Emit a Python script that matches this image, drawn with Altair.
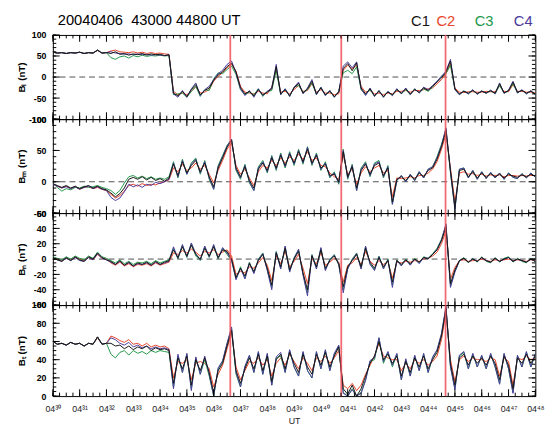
import json
import altair as alt
import pandas as pd

# ---------------- data ----------------
minutes = [i / 6 for i in range(109)]          # 10-s samples, minutes after 04:30 UT
x_tick_values = list(range(19))
x_tick_labels = ["04³⁰", "04³¹", "04³²", "04³³", "04³⁴", "04³⁵", "04³⁶", "04³⁷", "04³⁸", "04³⁹",
                 "04⁴⁰", "04⁴¹", "04⁴²", "04⁴³", "04⁴⁴", "04⁴⁵", "04⁴⁶", "04⁴⁷", "04⁴⁸"]
x_minor_values = [i / 4 for i in range(73)]
event_times = [6.62, 10.76, 14.65]
sc_names = ["C1", "C2", "C3", "C4"]
sc_colors = ["#151515", "#e8452c", "#23994a", "#4a3a9c"]
title_text = "20040406\u00a0 43000 44800 UT"

bl_c1 = [59, 57, 58, 56, 58, 57, 59, 56, 58, 57, 64, 57, 58,
         56, 60, 54, 56, 52, 55, 53, 56, 52, 55, 53, 54, 51, 53,
         -38, -45, -34, -46, -30, -18, -42, -32, -26,
         -8, 5, 12, 25, 33, 12, -25, -40,
         -34, -45, -30, -42, -36, -28, 25, -40, -30, -44, -26, -15, -38, -28, -10, -40, -26, -42, -34, -46, -36,
         20, 32, 15, 34, -26, -40,
         -28, -44, -34, -46, -36, -42, -30, -38, -28, -40, -30, -36, -26, -32, -22, -12,
         -2, 12, 38,
         -28, -40, -34, -38, -32, -39, -34, -37, -33, -38, -16, -37, -33, -12, -36, -32, -38, -34, -40]
bl_c2 = [59, 57, 58, 56, 58, 57, 59, 56, 58, 57, 63, 57, 58,
         62, 64, 60, 59, 58, 60, 57, 59, 56, 58, 56, 57, 55, 54,
         -34, -42, -38, -42, -34, -24, -38, -36, -30,
         -10, 2, 10, 22, 30, 14, -22, -36,
         -38, -40, -34, -38, -40, -24, 18, -36, -34, -40, -30, -20, -34, -32, -16, -36, -30, -38, -38, -42, -40,
         16, 28, 20, 28, -22, -36,
         -32, -40, -38, -42, -38, -40, -34, -34, -32, -36, -32, -32, -30, -28, -26, -16,
         -6, 8, 32,
         -26, -36, -37, -35, -35, -36, -36, -34, -35, -35, -22, -34, -35, -18, -34, -34, -36, -36, -38]
bl_c3 = [59, 57, 58, 56, 58, 57, 59, 56, 58, 57, 64, 57, 58,
         46, 42, 48, 50, 45, 51, 48, 52, 49, 51, 50, 52, 50, 51,
         -42, -40, -38, -48, -34, -22, -46, -30, -32,
         -4, 10, 8, 18, 26, 6, -30, -42,
         -36, -42, -28, -46, -34, -32, 16, -42, -28, -46, -24, -20, -36, -30, -14, -42, -24, -44, -32, -48, -34,
         10, 16, 8, 24, -30, -42,
         -30, -46, -32, -48, -34, -44, -28, -40, -30, -42, -28, -38, -28, -34, -24, -10,
         2, 8, 28,
         -30, -42, -33, -40, -31, -41, -33, -39, -32, -40, -20, -39, -32, -16, -38, -31, -40, -33, -42]
bl_c4 = [59, 57, 58, 56, 58, 57, 59, 56, 58, 57, 64, 57, 58,
         60, 57, 56, 54, 55, 53, 55, 53, 54, 52, 53, 52, 51, 52,
         -40, -48, -32, -48, -28, -14, -44, -30, -22,
         -6, 8, 16, 30, 38, 10, -28, -44,
         -32, -48, -28, -44, -34, -26, 30, -42, -28, -46, -24, -12, -40, -26, -6, -42, -24, -44, -32, -48, -34,
         26, 36, 22, 36, -28, -44,
         -26, -46, -32, -48, -34, -44, -28, -40, -26, -42, -28, -38, -24, -30, -20, -10,
         2, 14, 42,
         -30, -42, -33, -40, -30, -41, -33, -39, -31, -40, -14, -39, -31, -10, -38, -30, -40, -32, -42]

bm_c1 = [-3, -6, -9, -6, -10, -7, -11, -8, -6, -10, -7, -11, -13,
         -18, -24, -19, -10,
         4, 7, 4, 8, 3, 7, 2, 5,
         1, 6,
         28, 10, 32, 14, 26, 34, 16, 30, 8, -8, 22, 38, 55, 66, 22, 8, 24, 2, -10, 20,
         30, 18, 38, 22, 42, 26, 44, 30, 48, 32, 52, 30, 42, 22, 28, 10, 12,
         0,
         48, 8, 24, -10, 18, 28, 12, 26, 30, 10, 22,
         -32,
         4, 8, 2, 10, 4, 14, 8, 18, 22,
         36, 56, 82, 18, -40, 18,
         20, 8, 16, 6, 14, 7, 13, 8, 12, 6, 12, 9, 7, 11, 8, 12, 9]
bm_c2 = [-4, -7, -10, -7, -11, -8, -12, -9, -8, -11, -9, -12, -14,
         -20, -26, -22, -15,
         -6, -4, -7, -3, -6, -4, -5, -2,
         0, 3,
         22, 16, 28, 18, 22, 30, 20, 26, 12, -2, 18, 34, 52, 62, 26, 12, 20, 6, -6, 16,
         26, 22, 34, 26, 38, 30, 40, 34, 44, 36, 48, 34, 38, 26, 24, 14, 8,
         4,
         42, 12, 20, -4, 14, 24, 16, 22, 26, 14, 18,
         -24,
         6, 5, 6, 8, 6, 10, 10, 14, 20,
         32, 52, 76, 22, -32, 14,
         16, 12, 13, 10, 12, 9, 11, 10, 11, 8, 10, 10, 9, 10, 9, 10, 10]
bm_c3 = [-2, -9, -15, -11, -13, -9, -10, -7, -9, -8, -6, -9, -11,
         -14, -20, -14, -2,
         8, 10, 6, 9, 5, 8, 4, 6,
         4, 8,
         32, 6, 36, 12, 30, 38, 12, 34, 4, -12, 26, 42, 58, 68, 18, 4, 28, -2, -14, 24,
         34, 14, 42, 18, 46, 22, 48, 26, 52, 28, 56, 26, 46, 18, 32, 6, 16,
         -4,
         52, 4, 28, -14, 22, 32, 8, 30, 34, 6, 26,
         -36,
         2, 10, 0, 12, 2, 16, 6, 20, 24,
         40, 60, 84, 14, -44, 20,
         22, 6, 18, 4, 16, 5, 15, 6, 14, 4, 14, 7, 5, 13, 6, 14, 7]
bm_c4 = [-4, -7, -10, -8, -11, -8, -12, -9, -7, -11, -8, -12, -14,
         -25, -30, -26, -16,
         -4, -8, -5, -9, -4, -6, -1, -3,
         0, 4,
         30, 8, 34, 12, 28, 36, 14, 32, 6, -12, 24, 40, 57, 68, 20, 6, 26, 0, -14, 22,
         32, 16, 40, 20, 44, 24, 46, 28, 50, 30, 55, 28, 44, 20, 30, 8, 14,
         -2,
         50, 6, 26, -14, 20, 30, 10, 28, 32, 8, 24,
         -36,
         2, 10, 0, 12, 2, 16, 6, 20, 24,
         38, 58, 86, 16, -44, 20,
         22, 6, 18, 4, 16, 5, 15, 6, 14, 4, 14, 7, 5, 13, 6, 14, 7]

bn_c1 = [2, -1, -3, 2, -2, 3, -1, -3, 3, 0, 8, 2, -1,
         -3, -7, -2, -8, -4, -9, -5, -7, -4, -8, -3, -7, -4, -2,
         12, 2, 16, 4, 18, 6, 0, 14, 4, 16, 2, 12,
         10, 0, -24, -12, -22, -6, -16,
         -2, 6, -12, -34, 8, -10, 14, -14, 0, 10, -18, -40, 4, -10, 12, -12, -2, 4,
         -6,
         -36, -10, -2, 6, -10, 14, -4, -12, 2, -10, -2,
         -30,
         -2, -7, -1, -6, 0, -4, 2, 0, 6, 12,
         24, 42, -32, -14,
         -2, 1, -4, 0, -3, 2, -2, -4, 1, -3, 0, 2, -3, 0, -2, -4, 0, -3]
bn_c2 = [1, 0, -2, 1, -1, 2, 0, -2, 2, -1, 6, 1, 0,
         -5, -8, -4, -9, -6, -10, -7, -8, -6, -9, -5, -8, -6, -4,
         8, 6, 11, 8, 13, 9, 4, 10, 8, 12, 6, 9,
         12, 4, -20, -16, -18, -10, -12,
         -5, 2, -8, -28, 4, -6, 10, -10, -3, 6, -12, -32, 0, -6, 8, -8, -4, 1,
         -4,
         -30, -8, -5, 2, -7, 10, -3, -8, -2, -7, -3,
         -25,
         -4, -5, -3, -4, -2, -3, 0, 1, 4, 9,
         20, 37, -26, -11,
         -2, -1, -3, -2, -2, 0, -2, -3, -1, -2, -1, 0, -2, -1, -2, -3, -1, -2]
bn_c3 = [3, 1, -1, 3, 0, 4, 1, -1, 4, 1, 9, 3, 1,
         -2, -5, -1, -6, -3, -7, -4, -5, -3, -6, -2, -5, -3, -1,
         14, 0, 18, 2, 20, 4, -2, 16, 2, 18, 0, 14,
         6, -2, -26, -10, -25, -4, -18,
         0, 8, -14, -37, 10, -12, 16, -16, 2, 12, -20, -44, 6, -12, 14, -14, 0, 6,
         -8,
         -40, -12, 0, 8, -12, 16, -6, -14, 4, -12, 0,
         -34,
         -1, -8, 0, -7, 1, -5, 3, 1, 7, 14,
         26, 44, -35, -16,
         -3, 2, -5, 1, -4, 3, -3, -5, 2, -4, 1, 3, -4, 1, -3, -5, 1, -4]
bn_c4 = [2, -1, -3, 1, -2, 2, -2, -3, 2, -1, 7, 1, -1,
         -4, -7, -3, -8, -5, -9, -6, -7, -5, -8, -4, -7, -5, -3,
         16, 1, 19, 3, 21, 7, -1, 17, 3, 19, 1, 15,
         8, -1, -27, -12, -26, -5, -19,
         -1, 7, -15, -40, 9, -13, 17, -17, 1, 13, -21, -48, 5, -13, 15, -15, -1, 5,
         -7,
         -44, -13, -1, 7, -13, 17, -7, -15, 3, -13, -1,
         -37,
         -2, -9, -1, -8, 0, -6, 2, 1, 6, 13,
         25, 46, -37, -17,
         -2, 1, -4, 0, -3, 2, -2, -4, 1, -3, 0, 2, -3, 0, -2, -4, 0, -3]

bt_c1 = [60, 57, 58, 56, 59, 57, 58, 55, 58, 57, 65, 57, 58,
         58, 55, 56, 52, 55, 51, 54, 52, 55, 50, 53, 51, 52, 50,
         14, 42, 30, 44, 12, 40, 28, 42,
         26, 4, 28, 36, 55, 72, 28, 14, 30,
         42, 30, 46, 28, 44, 16, 40, 46, 30, 48, 36, 26, 46, 32, 24, 46, 34, 48, 32, 44, 54,
         8, 2, 12, 0, 8, 22,
         36, 44, 60, 40, 46,
         36, 44, 22, 38, 26, 42, 32, 44, 30, 40, 48,
         66, 96, 36, 12, 42,
         46, 34, 44, 36, 42, 34, 44, 36, 18, 44, 34, 8, 42, 36, 46, 36, 44]
bt_c2 = [60, 57, 58, 56, 59, 57, 58, 55, 58, 57, 64, 57, 58,
         66, 64, 61, 59, 62, 57, 58, 55, 58, 54, 56, 54, 55, 52,
         20, 38, 36, 40, 18, 36, 38, 36,
         30, 10, 24, 34, 52, 70, 32, 18, 28,
         38, 36, 42, 34, 40, 22, 36, 42, 34, 46, 38, 30, 42, 36, 28, 42, 38, 44, 36, 42, 50,
         12, 8, 14, 6, 12, 24,
         34, 44, 58, 44, 42,
         40, 40, 28, 36, 30, 40, 36, 40, 34, 38, 44,
         62, 92, 40, 16, 40,
         44, 38, 42, 40, 40, 38, 42, 40, 22, 42, 38, 12, 42, 40, 44, 40, 42]
bt_c3 = [60, 57, 58, 56, 59, 57, 58, 55, 58, 57, 65, 57, 58,
         46, 42, 48, 50, 45, 50, 47, 49, 46, 50, 48, 50, 49, 48,
         10, 44, 26, 46, 8, 42, 24, 40,
         22, 0, 30, 38, 58, 74, 24, 10, 32,
         44, 26, 48, 24, 46, 12, 42, 44, 26, 50, 32, 22, 48, 28, 20, 48, 30, 50, 28, 46, 55,
         4, 0, 8, 0, 4, 18,
         38, 40, 64, 36, 48,
         32, 46, 18, 40, 22, 44, 28, 46, 26, 42, 50,
         68, 97, 32, 8, 44,
         48, 30, 46, 32, 44, 30, 46, 32, 14, 46, 30, 4, 44, 32, 48, 32, 46]
bt_c4 = [60, 57, 58, 56, 59, 57, 58, 55, 58, 57, 65, 57, 58,
         64, 62, 58, 56, 59, 54, 56, 53, 55, 52, 54, 52, 53, 51,
         8, 46, 26, 47, 6, 43, 24, 44,
         24, 0, 31, 39, 58, 76, 26, 10, 33,
         45, 26, 49, 24, 47, 12, 43, 48, 26, 51, 32, 22, 49, 28, 20, 49, 30, 51, 28, 47, 56,
         3, 0, 7, 0, 3, 17,
         39, 42, 64, 38, 49,
         34, 47, 18, 41, 22, 45, 28, 47, 26, 43, 51,
         69, 99, 32, 7, 45,
         49, 30, 47, 32, 45, 30, 47, 32, 13, 47, 30, 3, 45, 32, 49, 32, 47]

panels = [
    dict(title="Bₗ (nT)", domain=[-100, 100], major=[-100, -50, 0, 50, 100],
         minor=list(range(-100, 101, 10)), height=86, zero=True,
         series=[bl_c1, bl_c2, bl_c3, bl_c4]),
    dict(title="Bₘ (nT)", domain=[-50, 100], major=[-50, 0, 50, 100],
         minor=list(range(-50, 101, 10)), height=96, zero=True,
         series=[bm_c1, bm_c2, bm_c3, bm_c4]),
    dict(title="Bₙ (nT)", domain=[-60, 60], major=[-60, -40, -20, 0, 20, 40, 60],
         minor=list(range(-60, 61, 5)), height=94, zero=True,
         series=[bn_c1, bn_c2, bn_c3, bn_c4]),
    dict(title="Bₜ (nT)", domain=[0, 100], major=[0, 20, 40, 60, 80, 100],
         minor=list(range(0, 101, 5)), height=93, zero=False,
         series=[bt_c1, bt_c2, bt_c3, bt_c4]),
]
for p in panels:
    for s in p["series"]:
        assert len(s) == len(minutes), (p["title"], len(s))

FONT = "Liberation Sans"
W = 493
MAJ, MIN = 7, 3.5
x_label_expr = json.dumps(x_tick_labels, ensure_ascii=False) + "[round(datum.value)]"


def y_ticks(values, ys, length, right):
    x0, x1 = (W - length, W) if right else (0, length)
    return alt.Chart(pd.DataFrame({"v": values})).mark_rule(color="black", strokeWidth=1).encode(
        y=alt.Y("v:Q", scale=ys, axis=None), x=alt.value(x0), x2=alt.value(x1))


def x_ticks(values, xs, length, h, bottom):
    y0, y1 = (h - length, h) if bottom else (0, length)
    return alt.Chart(pd.DataFrame({"t": values})).mark_rule(color="black", strokeWidth=1).encode(
        x=alt.X("t:Q", scale=xs, axis=None), y=alt.value(y0), y2=alt.value(y1))


def make_panel(p, first, last):
    h = p["height"]
    xs = alt.Scale(domain=[0, 18], nice=False, zero=False)
    ys = alt.Scale(domain=p["domain"], nice=False, zero=False)
    df = pd.DataFrame({"t": minutes, **{n: v for n, v in zip(sc_names, p["series"])}})
    layers = []
    if p["zero"]:
        layers.append(alt.Chart(pd.DataFrame({"z": [0]})).mark_rule(
            color="#222222", strokeWidth=0.8, strokeDash=[6, 4]).encode(
            y=alt.Y("z:Q", scale=ys, axis=None)))
    if last:
        x_axis = alt.Axis(orient="bottom", values=x_tick_values, ticks=False, tickSize=0,
                          domain=False, grid=False, labelExpr=x_label_expr, labelPadding=9,
                          labelFontSize=9, labelFlush=False, labelOverlap=False, labelFont=FONT,
                          labelColor="#222222", title="UT", titleFontSize=9, titleFontWeight="normal",
                          titlePadding=3, titleFont=FONT, titleColor="#222222")
    else:
        x_axis = None
    y_axis = alt.Axis(orient="left", values=p["major"], ticks=False, tickSize=0, domain=False,
                      grid=False, labelExpr="datum.value + ''", labelPadding=7, labelFontSize=9,
                      labelFontWeight="bold", labelOverlap=False, labelFont=FONT, labelColor="black",
                      title=p["title"], titleX=-27, titleY=h / 2, titleAngle=270, titleAlign="center",
                      titleBaseline="bottom", titleFontSize=10, titleFontWeight="bold",
                      titleFont=FONT, titleColor="black")
    for idx in [1, 2, 3, 0]:
        main = idx == 0
        layers.append(alt.Chart(df).mark_line(color=sc_colors[idx], strokeWidth=1, clip=True).encode(
            x=alt.X("t:Q", scale=xs, axis=x_axis if main else None),
            y=alt.Y(f"{sc_names[idx]}:Q", scale=ys, axis=y_axis if main else None)))
    layers.append(alt.Chart(pd.DataFrame({"t": event_times})).mark_rule(
        color="#f0505a", strokeWidth=1.8, opacity=0.85).encode(
        x=alt.X("t:Q", scale=xs, axis=None)))
    # inward tick marks on all four sides
    for right in (False, True):
        layers.append(y_ticks(p["minor"], ys, MIN, right))
        layers.append(y_ticks(p["major"], ys, MAJ, right))
    for bottom in (False, True):
        layers.append(x_ticks(x_minor_values, xs, MIN, h, bottom))
        layers.append(x_ticks(x_tick_values, xs, MAJ, h, bottom))
    if first:
        layers.append(alt.Chart(pd.DataFrame({"s": [title_text]})).mark_text(
            align="left", baseline="alphabetic", fontSize=15, font=FONT, color="black").encode(
            text="s:N", x=alt.value(5), y=alt.value(-10)))
        legend_x = [366, 392, 431, 471]
        for n, c, lx in zip(sc_names, sc_colors, legend_x):
            layers.append(alt.Chart(pd.DataFrame({"s": [n]})).mark_text(
                align="left", baseline="alphabetic", fontSize=15, font=FONT, color=c).encode(
                text="s:N", x=alt.value(lx), y=alt.value(-9)))
    return alt.layer(*layers).resolve_axis(x="independent", y="independent").properties(
        width=W, height=h)


charts = [make_panel(p, i == 0, i == len(panels) - 1) for i, p in enumerate(panels)]
chart = alt.vconcat(*charts, spacing=0, bounds="flush").properties(
    padding={"left": 16, "top": 8, "right": 6, "bottom": 2}
).configure_view(stroke="black", strokeWidth=1)

chart.save("out.html", embed_options={"renderer": "svg", "actions": False})
